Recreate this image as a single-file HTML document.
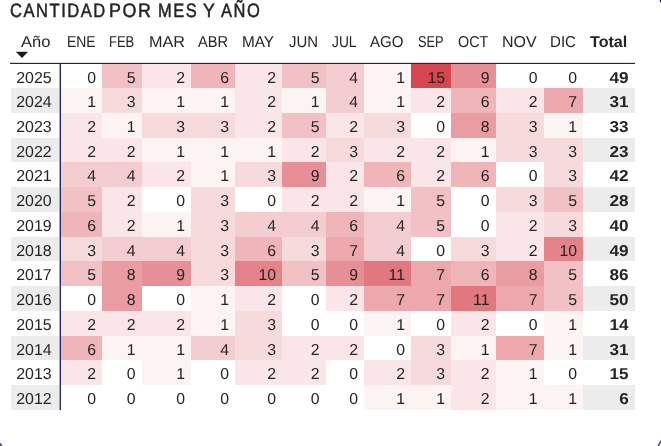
<!DOCTYPE html>
<html><head><meta charset="utf-8"><title>Cantidad por mes y año</title>
<style>
html,body{margin:0;padding:0;background:#fff;}
body{width:661px;height:446px;position:relative;overflow:hidden;text-rendering:geometricPrecision;font-family:"Liberation Sans",sans-serif;color:#252423;}
.a{position:absolute;}
.tt{position:absolute;left:0;top:0;width:400px;height:28px;}
.t{position:absolute;display:block;top:-0.9px;font-size:19.4px;line-height:24px;white-space:nowrap;color:#252423;transform-origin:0 0;-webkit-text-stroke:0.5px #252423;letter-spacing:1.8px;word-spacing:0px;}
.h{position:absolute;top:32px;height:22px;line-height:22px;font-size:15.8px;white-space:nowrap;transform-origin:0 0;}
.c{position:absolute;box-sizing:border-box;text-align:right;font-size:15.8px;white-space:nowrap;}
.y{position:absolute;box-sizing:border-box;text-align:center;font-size:15.8px;white-space:nowrap;}
.b{font-weight:bold;}
.v,.ys,.bs{position:absolute;line-height:18px;height:18px;display:block;}
.v{right:6.0px;}
.ys{left:0;width:100%;text-align:center;transform:scaleX(1.01);transform-origin:50% 50%;margin-left:-1.5px;}
.bs{right:6.0px;transform:scaleX(1.085);transform-origin:100% 50%;}
.g{background:#ececec;}
</style></head><body>
<div class="tt"><span class="t" style="left:10.00px;transform:scaleX(0.8533)">CANTIDAD</span> <span class="t" style="left:109.15px;transform:scaleX(0.9210)">POR</span> <span class="t" style="left:158.00px;transform:scaleX(0.8466)">MES</span> <span class="t" style="left:202.60px;transform:scaleX(0.9160)">Y</span> <span class="t" style="left:220.90px;transform:scaleX(0.8509)">AÑO</span></div>

<div class="h" style="left:20.90px;transform:scaleX(1.0467)">Año</div>
<div class="h" style="left:67.35px;transform:scaleX(0.8800)">ENE</div>
<div class="h" style="left:109.40px;transform:scaleX(0.8193)">FEB</div>
<div class="h" style="left:148.95px;transform:scaleX(1.0278)">MAR</div>
<div class="h" style="left:198.35px;transform:scaleX(0.9244)">ABR</div>
<div class="h" style="left:241.65px;transform:scaleX(0.9700)">MAY</div>
<div class="h" style="left:289.35px;transform:scaleX(0.9445)">JUN</div>
<div class="h" style="left:331.70px;transform:scaleX(0.8728)">JUL</div>
<div class="h" style="left:370.40px;transform:scaleX(0.9515)">AGO</div>
<div class="h" style="left:417.80px;transform:scaleX(0.8062)">SEP</div>
<div class="h" style="left:457.50px;transform:scaleX(0.9065)">OCT</div>
<div class="h" style="left:501.60px;transform:scaleX(1.0118)">NOV</div>
<div class="h" style="left:549.80px;transform:scaleX(0.9545)">DIC</div>
<div class="h b" style="left:590.40px;transform:scaleX(1.0203)">Total</div>
<svg class="a" style="left:16px;top:51px" width="13" height="8" viewBox="0 0 13 8"><path d="M-0.1 0.8 L12.1 0.8 L6 7.0 Z" fill="#1a1a1a"/></svg>
<div class="y" style="left:10.6px;width:49.9px;top:63.50px;height:24.73px;"><span class="ys" style="top:6.50px">2025</span></div>
<div class="c" style="left:60.5px;width:41.5px;top:63.50px;height:24.73px;background:rgb(255,255,255)"><span class="v" style="top:6.50px">0</span></div>
<div class="c" style="left:102.0px;width:39.5px;top:63.50px;height:24.73px;background:rgb(241,193,197)"><span class="v" style="top:6.50px">5</span></div>
<div class="c" style="left:141.5px;width:49.5px;top:63.50px;height:24.73px;background:rgb(250,230,232)"><span class="v" style="top:6.50px">2</span></div>
<div class="c" style="left:191.0px;width:44.0px;top:63.50px;height:24.73px;background:rgb(239,181,185)"><span class="v" style="top:6.50px">6</span></div>
<div class="c" style="left:235.0px;width:47.0px;top:63.50px;height:24.73px;background:rgb(250,230,232)"><span class="v" style="top:6.50px">2</span></div>
<div class="c" style="left:282.0px;width:43.5px;top:63.50px;height:24.73px;background:rgb(241,193,197)"><span class="v" style="top:6.50px">5</span></div>
<div class="c" style="left:325.5px;width:38.5px;top:63.50px;height:24.73px;background:rgb(244,205,208)"><span class="v" style="top:6.50px">4</span></div>
<div class="c" style="left:364.0px;width:47.0px;top:63.50px;height:24.73px;background:rgb(252,243,243)"><span class="v" style="top:6.50px">1</span></div>
<div class="c" style="left:411.0px;width:40.0px;top:63.50px;height:24.73px;background:rgb(214,69,80)"><span class="v" style="top:6.50px">15</span></div>
<div class="c" style="left:451.0px;width:44.5px;top:63.50px;height:24.73px;background:rgb(230,143,150)"><span class="v" style="top:6.50px">9</span></div>
<div class="c" style="left:495.5px;width:48.0px;top:63.50px;height:24.73px;background:rgb(255,255,255)"><span class="v" style="top:6.50px">0</span></div>
<div class="c" style="left:543.5px;width:39.5px;top:63.50px;height:24.73px;background:rgb(255,255,255)"><span class="v" style="top:6.50px">0</span></div>
<div class="c b" style="left:583.0px;width:51.7px;top:63.50px;height:24.73px;"><span class="bs" style="top:6.50px">49</span></div>
<div class="y g" style="left:10.6px;width:49.9px;top:88.23px;height:24.73px;"><span class="ys" style="top:5.77px">2024</span></div>
<div class="c" style="left:60.5px;width:41.5px;top:88.23px;height:24.73px;background:rgb(252,243,243)"><span class="v" style="top:5.77px">1</span></div>
<div class="c" style="left:102.0px;width:39.5px;top:88.23px;height:24.73px;background:rgb(247,218,220)"><span class="v" style="top:5.77px">3</span></div>
<div class="c" style="left:141.5px;width:49.5px;top:88.23px;height:24.73px;background:rgb(252,243,243)"><span class="v" style="top:5.77px">1</span></div>
<div class="c" style="left:191.0px;width:44.0px;top:88.23px;height:24.73px;background:rgb(252,243,243)"><span class="v" style="top:5.77px">1</span></div>
<div class="c" style="left:235.0px;width:47.0px;top:88.23px;height:24.73px;background:rgb(250,230,232)"><span class="v" style="top:5.77px">2</span></div>
<div class="c" style="left:282.0px;width:43.5px;top:88.23px;height:24.73px;background:rgb(252,243,243)"><span class="v" style="top:5.77px">1</span></div>
<div class="c" style="left:325.5px;width:38.5px;top:88.23px;height:24.73px;background:rgb(244,205,208)"><span class="v" style="top:5.77px">4</span></div>
<div class="c" style="left:364.0px;width:47.0px;top:88.23px;height:24.73px;background:rgb(252,243,243)"><span class="v" style="top:5.77px">1</span></div>
<div class="c" style="left:411.0px;width:40.0px;top:88.23px;height:24.73px;background:rgb(250,230,232)"><span class="v" style="top:5.77px">2</span></div>
<div class="c" style="left:451.0px;width:44.5px;top:88.23px;height:24.73px;background:rgb(239,181,185)"><span class="v" style="top:5.77px">6</span></div>
<div class="c" style="left:495.5px;width:48.0px;top:88.23px;height:24.73px;background:rgb(250,230,232)"><span class="v" style="top:5.77px">2</span></div>
<div class="c" style="left:543.5px;width:39.5px;top:88.23px;height:24.73px;background:rgb(236,168,173)"><span class="v" style="top:5.77px">7</span></div>
<div class="c b g" style="left:583.0px;width:51.7px;top:88.23px;height:24.73px;"><span class="bs" style="top:5.77px">31</span></div>
<div class="y" style="left:10.6px;width:49.9px;top:112.96px;height:24.73px;"><span class="ys" style="top:6.04px">2023</span></div>
<div class="c" style="left:60.5px;width:41.5px;top:112.96px;height:24.73px;background:rgb(250,230,232)"><span class="v" style="top:6.04px">2</span></div>
<div class="c" style="left:102.0px;width:39.5px;top:112.96px;height:24.73px;background:rgb(252,243,243)"><span class="v" style="top:6.04px">1</span></div>
<div class="c" style="left:141.5px;width:49.5px;top:112.96px;height:24.73px;background:rgb(247,218,220)"><span class="v" style="top:6.04px">3</span></div>
<div class="c" style="left:191.0px;width:44.0px;top:112.96px;height:24.73px;background:rgb(247,218,220)"><span class="v" style="top:6.04px">3</span></div>
<div class="c" style="left:235.0px;width:47.0px;top:112.96px;height:24.73px;background:rgb(250,230,232)"><span class="v" style="top:6.04px">2</span></div>
<div class="c" style="left:282.0px;width:43.5px;top:112.96px;height:24.73px;background:rgb(241,193,197)"><span class="v" style="top:6.04px">5</span></div>
<div class="c" style="left:325.5px;width:38.5px;top:112.96px;height:24.73px;background:rgb(250,230,232)"><span class="v" style="top:6.04px">2</span></div>
<div class="c" style="left:364.0px;width:47.0px;top:112.96px;height:24.73px;background:rgb(247,218,220)"><span class="v" style="top:6.04px">3</span></div>
<div class="c" style="left:411.0px;width:40.0px;top:112.96px;height:24.73px;background:rgb(255,255,255)"><span class="v" style="top:6.04px">0</span></div>
<div class="c" style="left:451.0px;width:44.5px;top:112.96px;height:24.73px;background:rgb(233,156,162)"><span class="v" style="top:6.04px">8</span></div>
<div class="c" style="left:495.5px;width:48.0px;top:112.96px;height:24.73px;background:rgb(247,218,220)"><span class="v" style="top:6.04px">3</span></div>
<div class="c" style="left:543.5px;width:39.5px;top:112.96px;height:24.73px;background:rgb(252,243,243)"><span class="v" style="top:6.04px">1</span></div>
<div class="c b" style="left:583.0px;width:51.7px;top:112.96px;height:24.73px;"><span class="bs" style="top:6.04px">33</span></div>
<div class="y g" style="left:10.6px;width:49.9px;top:137.69px;height:24.73px;"><span class="ys" style="top:6.31px">2022</span></div>
<div class="c" style="left:60.5px;width:41.5px;top:137.69px;height:24.73px;background:rgb(250,230,232)"><span class="v" style="top:6.31px">2</span></div>
<div class="c" style="left:102.0px;width:39.5px;top:137.69px;height:24.73px;background:rgb(250,230,232)"><span class="v" style="top:6.31px">2</span></div>
<div class="c" style="left:141.5px;width:49.5px;top:137.69px;height:24.73px;background:rgb(252,243,243)"><span class="v" style="top:6.31px">1</span></div>
<div class="c" style="left:191.0px;width:44.0px;top:137.69px;height:24.73px;background:rgb(252,243,243)"><span class="v" style="top:6.31px">1</span></div>
<div class="c" style="left:235.0px;width:47.0px;top:137.69px;height:24.73px;background:rgb(252,243,243)"><span class="v" style="top:6.31px">1</span></div>
<div class="c" style="left:282.0px;width:43.5px;top:137.69px;height:24.73px;background:rgb(250,230,232)"><span class="v" style="top:6.31px">2</span></div>
<div class="c" style="left:325.5px;width:38.5px;top:137.69px;height:24.73px;background:rgb(247,218,220)"><span class="v" style="top:6.31px">3</span></div>
<div class="c" style="left:364.0px;width:47.0px;top:137.69px;height:24.73px;background:rgb(250,230,232)"><span class="v" style="top:6.31px">2</span></div>
<div class="c" style="left:411.0px;width:40.0px;top:137.69px;height:24.73px;background:rgb(250,230,232)"><span class="v" style="top:6.31px">2</span></div>
<div class="c" style="left:451.0px;width:44.5px;top:137.69px;height:24.73px;background:rgb(252,243,243)"><span class="v" style="top:6.31px">1</span></div>
<div class="c" style="left:495.5px;width:48.0px;top:137.69px;height:24.73px;background:rgb(247,218,220)"><span class="v" style="top:6.31px">3</span></div>
<div class="c" style="left:543.5px;width:39.5px;top:137.69px;height:24.73px;background:rgb(247,218,220)"><span class="v" style="top:6.31px">3</span></div>
<div class="c b g" style="left:583.0px;width:51.7px;top:137.69px;height:24.73px;"><span class="bs" style="top:6.31px">23</span></div>
<div class="y" style="left:10.6px;width:49.9px;top:162.41px;height:24.73px;"><span class="ys" style="top:5.59px">2021</span></div>
<div class="c" style="left:60.5px;width:41.5px;top:162.41px;height:24.73px;background:rgb(244,205,208)"><span class="v" style="top:5.59px">4</span></div>
<div class="c" style="left:102.0px;width:39.5px;top:162.41px;height:24.73px;background:rgb(244,205,208)"><span class="v" style="top:5.59px">4</span></div>
<div class="c" style="left:141.5px;width:49.5px;top:162.41px;height:24.73px;background:rgb(250,230,232)"><span class="v" style="top:5.59px">2</span></div>
<div class="c" style="left:191.0px;width:44.0px;top:162.41px;height:24.73px;background:rgb(252,243,243)"><span class="v" style="top:5.59px">1</span></div>
<div class="c" style="left:235.0px;width:47.0px;top:162.41px;height:24.73px;background:rgb(247,218,220)"><span class="v" style="top:5.59px">3</span></div>
<div class="c" style="left:282.0px;width:43.5px;top:162.41px;height:24.73px;background:rgb(230,143,150)"><span class="v" style="top:5.59px">9</span></div>
<div class="c" style="left:325.5px;width:38.5px;top:162.41px;height:24.73px;background:rgb(250,230,232)"><span class="v" style="top:5.59px">2</span></div>
<div class="c" style="left:364.0px;width:47.0px;top:162.41px;height:24.73px;background:rgb(239,181,185)"><span class="v" style="top:5.59px">6</span></div>
<div class="c" style="left:411.0px;width:40.0px;top:162.41px;height:24.73px;background:rgb(250,230,232)"><span class="v" style="top:5.59px">2</span></div>
<div class="c" style="left:451.0px;width:44.5px;top:162.41px;height:24.73px;background:rgb(239,181,185)"><span class="v" style="top:5.59px">6</span></div>
<div class="c" style="left:495.5px;width:48.0px;top:162.41px;height:24.73px;background:rgb(255,255,255)"><span class="v" style="top:5.59px">0</span></div>
<div class="c" style="left:543.5px;width:39.5px;top:162.41px;height:24.73px;background:rgb(247,218,220)"><span class="v" style="top:5.59px">3</span></div>
<div class="c b" style="left:583.0px;width:51.7px;top:162.41px;height:24.73px;"><span class="bs" style="top:5.59px">42</span></div>
<div class="y g" style="left:10.6px;width:49.9px;top:187.14px;height:24.73px;"><span class="ys" style="top:5.86px">2020</span></div>
<div class="c" style="left:60.5px;width:41.5px;top:187.14px;height:24.73px;background:rgb(241,193,197)"><span class="v" style="top:5.86px">5</span></div>
<div class="c" style="left:102.0px;width:39.5px;top:187.14px;height:24.73px;background:rgb(250,230,232)"><span class="v" style="top:5.86px">2</span></div>
<div class="c" style="left:141.5px;width:49.5px;top:187.14px;height:24.73px;background:rgb(255,255,255)"><span class="v" style="top:5.86px">0</span></div>
<div class="c" style="left:191.0px;width:44.0px;top:187.14px;height:24.73px;background:rgb(247,218,220)"><span class="v" style="top:5.86px">3</span></div>
<div class="c" style="left:235.0px;width:47.0px;top:187.14px;height:24.73px;background:rgb(255,255,255)"><span class="v" style="top:5.86px">0</span></div>
<div class="c" style="left:282.0px;width:43.5px;top:187.14px;height:24.73px;background:rgb(250,230,232)"><span class="v" style="top:5.86px">2</span></div>
<div class="c" style="left:325.5px;width:38.5px;top:187.14px;height:24.73px;background:rgb(250,230,232)"><span class="v" style="top:5.86px">2</span></div>
<div class="c" style="left:364.0px;width:47.0px;top:187.14px;height:24.73px;background:rgb(252,243,243)"><span class="v" style="top:5.86px">1</span></div>
<div class="c" style="left:411.0px;width:40.0px;top:187.14px;height:24.73px;background:rgb(241,193,197)"><span class="v" style="top:5.86px">5</span></div>
<div class="c" style="left:451.0px;width:44.5px;top:187.14px;height:24.73px;background:rgb(255,255,255)"><span class="v" style="top:5.86px">0</span></div>
<div class="c" style="left:495.5px;width:48.0px;top:187.14px;height:24.73px;background:rgb(247,218,220)"><span class="v" style="top:5.86px">3</span></div>
<div class="c" style="left:543.5px;width:39.5px;top:187.14px;height:24.73px;background:rgb(241,193,197)"><span class="v" style="top:5.86px">5</span></div>
<div class="c b g" style="left:583.0px;width:51.7px;top:187.14px;height:24.73px;"><span class="bs" style="top:5.86px">28</span></div>
<div class="y" style="left:10.6px;width:49.9px;top:211.87px;height:24.73px;"><span class="ys" style="top:6.13px">2019</span></div>
<div class="c" style="left:60.5px;width:41.5px;top:211.87px;height:24.73px;background:rgb(239,181,185)"><span class="v" style="top:6.13px">6</span></div>
<div class="c" style="left:102.0px;width:39.5px;top:211.87px;height:24.73px;background:rgb(250,230,232)"><span class="v" style="top:6.13px">2</span></div>
<div class="c" style="left:141.5px;width:49.5px;top:211.87px;height:24.73px;background:rgb(252,243,243)"><span class="v" style="top:6.13px">1</span></div>
<div class="c" style="left:191.0px;width:44.0px;top:211.87px;height:24.73px;background:rgb(247,218,220)"><span class="v" style="top:6.13px">3</span></div>
<div class="c" style="left:235.0px;width:47.0px;top:211.87px;height:24.73px;background:rgb(244,205,208)"><span class="v" style="top:6.13px">4</span></div>
<div class="c" style="left:282.0px;width:43.5px;top:211.87px;height:24.73px;background:rgb(244,205,208)"><span class="v" style="top:6.13px">4</span></div>
<div class="c" style="left:325.5px;width:38.5px;top:211.87px;height:24.73px;background:rgb(239,181,185)"><span class="v" style="top:6.13px">6</span></div>
<div class="c" style="left:364.0px;width:47.0px;top:211.87px;height:24.73px;background:rgb(244,205,208)"><span class="v" style="top:6.13px">4</span></div>
<div class="c" style="left:411.0px;width:40.0px;top:211.87px;height:24.73px;background:rgb(241,193,197)"><span class="v" style="top:6.13px">5</span></div>
<div class="c" style="left:451.0px;width:44.5px;top:211.87px;height:24.73px;background:rgb(255,255,255)"><span class="v" style="top:6.13px">0</span></div>
<div class="c" style="left:495.5px;width:48.0px;top:211.87px;height:24.73px;background:rgb(250,230,232)"><span class="v" style="top:6.13px">2</span></div>
<div class="c" style="left:543.5px;width:39.5px;top:211.87px;height:24.73px;background:rgb(247,218,220)"><span class="v" style="top:6.13px">3</span></div>
<div class="c b" style="left:583.0px;width:51.7px;top:211.87px;height:24.73px;"><span class="bs" style="top:6.13px">40</span></div>
<div class="y g" style="left:10.6px;width:49.9px;top:236.60px;height:24.73px;"><span class="ys" style="top:6.40px">2018</span></div>
<div class="c" style="left:60.5px;width:41.5px;top:236.60px;height:24.73px;background:rgb(247,218,220)"><span class="v" style="top:6.40px">3</span></div>
<div class="c" style="left:102.0px;width:39.5px;top:236.60px;height:24.73px;background:rgb(244,205,208)"><span class="v" style="top:6.40px">4</span></div>
<div class="c" style="left:141.5px;width:49.5px;top:236.60px;height:24.73px;background:rgb(244,205,208)"><span class="v" style="top:6.40px">4</span></div>
<div class="c" style="left:191.0px;width:44.0px;top:236.60px;height:24.73px;background:rgb(247,218,220)"><span class="v" style="top:6.40px">3</span></div>
<div class="c" style="left:235.0px;width:47.0px;top:236.60px;height:24.73px;background:rgb(239,181,185)"><span class="v" style="top:6.40px">6</span></div>
<div class="c" style="left:282.0px;width:43.5px;top:236.60px;height:24.73px;background:rgb(247,218,220)"><span class="v" style="top:6.40px">3</span></div>
<div class="c" style="left:325.5px;width:38.5px;top:236.60px;height:24.73px;background:rgb(236,168,173)"><span class="v" style="top:6.40px">7</span></div>
<div class="c" style="left:364.0px;width:47.0px;top:236.60px;height:24.73px;background:rgb(244,205,208)"><span class="v" style="top:6.40px">4</span></div>
<div class="c" style="left:411.0px;width:40.0px;top:236.60px;height:24.73px;background:rgb(255,255,255)"><span class="v" style="top:6.40px">0</span></div>
<div class="c" style="left:451.0px;width:44.5px;top:236.60px;height:24.73px;background:rgb(247,218,220)"><span class="v" style="top:6.40px">3</span></div>
<div class="c" style="left:495.5px;width:48.0px;top:236.60px;height:24.73px;background:rgb(250,230,232)"><span class="v" style="top:6.40px">2</span></div>
<div class="c" style="left:543.5px;width:39.5px;top:236.60px;height:24.73px;background:rgb(228,131,138)"><span class="v" style="top:6.40px">10</span></div>
<div class="c b g" style="left:583.0px;width:51.7px;top:236.60px;height:24.73px;"><span class="bs" style="top:6.40px">49</span></div>
<div class="y" style="left:10.6px;width:49.9px;top:261.33px;height:24.73px;"><span class="ys" style="top:5.67px">2017</span></div>
<div class="c" style="left:60.5px;width:41.5px;top:261.33px;height:24.73px;background:rgb(241,193,197)"><span class="v" style="top:5.67px">5</span></div>
<div class="c" style="left:102.0px;width:39.5px;top:261.33px;height:24.73px;background:rgb(233,156,162)"><span class="v" style="top:5.67px">8</span></div>
<div class="c" style="left:141.5px;width:49.5px;top:261.33px;height:24.73px;background:rgb(230,143,150)"><span class="v" style="top:5.67px">9</span></div>
<div class="c" style="left:191.0px;width:44.0px;top:261.33px;height:24.73px;background:rgb(247,218,220)"><span class="v" style="top:5.67px">3</span></div>
<div class="c" style="left:235.0px;width:47.0px;top:261.33px;height:24.73px;background:rgb(228,131,138)"><span class="v" style="top:5.67px">10</span></div>
<div class="c" style="left:282.0px;width:43.5px;top:261.33px;height:24.73px;background:rgb(241,193,197)"><span class="v" style="top:5.67px">5</span></div>
<div class="c" style="left:325.5px;width:38.5px;top:261.33px;height:24.73px;background:rgb(230,143,150)"><span class="v" style="top:5.67px">9</span></div>
<div class="c" style="left:364.0px;width:47.0px;top:261.33px;height:24.73px;background:rgb(225,119,127)"><span class="v" style="top:5.67px">11</span></div>
<div class="c" style="left:411.0px;width:40.0px;top:261.33px;height:24.73px;background:rgb(236,168,173)"><span class="v" style="top:5.67px">7</span></div>
<div class="c" style="left:451.0px;width:44.5px;top:261.33px;height:24.73px;background:rgb(239,181,185)"><span class="v" style="top:5.67px">6</span></div>
<div class="c" style="left:495.5px;width:48.0px;top:261.33px;height:24.73px;background:rgb(233,156,162)"><span class="v" style="top:5.67px">8</span></div>
<div class="c" style="left:543.5px;width:39.5px;top:261.33px;height:24.73px;background:rgb(241,193,197)"><span class="v" style="top:5.67px">5</span></div>
<div class="c b" style="left:583.0px;width:51.7px;top:261.33px;height:24.73px;"><span class="bs" style="top:5.67px">86</span></div>
<div class="y g" style="left:10.6px;width:49.9px;top:286.06px;height:24.73px;"><span class="ys" style="top:5.94px">2016</span></div>
<div class="c" style="left:60.5px;width:41.5px;top:286.06px;height:24.73px;background:rgb(255,255,255)"><span class="v" style="top:5.94px">0</span></div>
<div class="c" style="left:102.0px;width:39.5px;top:286.06px;height:24.73px;background:rgb(233,156,162)"><span class="v" style="top:5.94px">8</span></div>
<div class="c" style="left:141.5px;width:49.5px;top:286.06px;height:24.73px;background:rgb(255,255,255)"><span class="v" style="top:5.94px">0</span></div>
<div class="c" style="left:191.0px;width:44.0px;top:286.06px;height:24.73px;background:rgb(252,243,243)"><span class="v" style="top:5.94px">1</span></div>
<div class="c" style="left:235.0px;width:47.0px;top:286.06px;height:24.73px;background:rgb(250,230,232)"><span class="v" style="top:5.94px">2</span></div>
<div class="c" style="left:282.0px;width:43.5px;top:286.06px;height:24.73px;background:rgb(255,255,255)"><span class="v" style="top:5.94px">0</span></div>
<div class="c" style="left:325.5px;width:38.5px;top:286.06px;height:24.73px;background:rgb(250,230,232)"><span class="v" style="top:5.94px">2</span></div>
<div class="c" style="left:364.0px;width:47.0px;top:286.06px;height:24.73px;background:rgb(236,168,173)"><span class="v" style="top:5.94px">7</span></div>
<div class="c" style="left:411.0px;width:40.0px;top:286.06px;height:24.73px;background:rgb(236,168,173)"><span class="v" style="top:5.94px">7</span></div>
<div class="c" style="left:451.0px;width:44.5px;top:286.06px;height:24.73px;background:rgb(225,119,127)"><span class="v" style="top:5.94px">11</span></div>
<div class="c" style="left:495.5px;width:48.0px;top:286.06px;height:24.73px;background:rgb(236,168,173)"><span class="v" style="top:5.94px">7</span></div>
<div class="c" style="left:543.5px;width:39.5px;top:286.06px;height:24.73px;background:rgb(241,193,197)"><span class="v" style="top:5.94px">5</span></div>
<div class="c b g" style="left:583.0px;width:51.7px;top:286.06px;height:24.73px;"><span class="bs" style="top:5.94px">50</span></div>
<div class="y" style="left:10.6px;width:49.9px;top:310.79px;height:24.73px;"><span class="ys" style="top:6.21px">2015</span></div>
<div class="c" style="left:60.5px;width:41.5px;top:310.79px;height:24.73px;background:rgb(250,230,232)"><span class="v" style="top:6.21px">2</span></div>
<div class="c" style="left:102.0px;width:39.5px;top:310.79px;height:24.73px;background:rgb(250,230,232)"><span class="v" style="top:6.21px">2</span></div>
<div class="c" style="left:141.5px;width:49.5px;top:310.79px;height:24.73px;background:rgb(250,230,232)"><span class="v" style="top:6.21px">2</span></div>
<div class="c" style="left:191.0px;width:44.0px;top:310.79px;height:24.73px;background:rgb(252,243,243)"><span class="v" style="top:6.21px">1</span></div>
<div class="c" style="left:235.0px;width:47.0px;top:310.79px;height:24.73px;background:rgb(247,218,220)"><span class="v" style="top:6.21px">3</span></div>
<div class="c" style="left:282.0px;width:43.5px;top:310.79px;height:24.73px;background:rgb(255,255,255)"><span class="v" style="top:6.21px">0</span></div>
<div class="c" style="left:325.5px;width:38.5px;top:310.79px;height:24.73px;background:rgb(255,255,255)"><span class="v" style="top:6.21px">0</span></div>
<div class="c" style="left:364.0px;width:47.0px;top:310.79px;height:24.73px;background:rgb(252,243,243)"><span class="v" style="top:6.21px">1</span></div>
<div class="c" style="left:411.0px;width:40.0px;top:310.79px;height:24.73px;background:rgb(255,255,255)"><span class="v" style="top:6.21px">0</span></div>
<div class="c" style="left:451.0px;width:44.5px;top:310.79px;height:24.73px;background:rgb(250,230,232)"><span class="v" style="top:6.21px">2</span></div>
<div class="c" style="left:495.5px;width:48.0px;top:310.79px;height:24.73px;background:rgb(255,255,255)"><span class="v" style="top:6.21px">0</span></div>
<div class="c" style="left:543.5px;width:39.5px;top:310.79px;height:24.73px;background:rgb(252,243,243)"><span class="v" style="top:6.21px">1</span></div>
<div class="c b" style="left:583.0px;width:51.7px;top:310.79px;height:24.73px;"><span class="bs" style="top:6.21px">14</span></div>
<div class="y g" style="left:10.6px;width:49.9px;top:335.51px;height:24.73px;"><span class="ys" style="top:6.49px">2014</span></div>
<div class="c" style="left:60.5px;width:41.5px;top:335.51px;height:24.73px;background:rgb(239,181,185)"><span class="v" style="top:6.49px">6</span></div>
<div class="c" style="left:102.0px;width:39.5px;top:335.51px;height:24.73px;background:rgb(252,243,243)"><span class="v" style="top:6.49px">1</span></div>
<div class="c" style="left:141.5px;width:49.5px;top:335.51px;height:24.73px;background:rgb(252,243,243)"><span class="v" style="top:6.49px">1</span></div>
<div class="c" style="left:191.0px;width:44.0px;top:335.51px;height:24.73px;background:rgb(244,205,208)"><span class="v" style="top:6.49px">4</span></div>
<div class="c" style="left:235.0px;width:47.0px;top:335.51px;height:24.73px;background:rgb(247,218,220)"><span class="v" style="top:6.49px">3</span></div>
<div class="c" style="left:282.0px;width:43.5px;top:335.51px;height:24.73px;background:rgb(250,230,232)"><span class="v" style="top:6.49px">2</span></div>
<div class="c" style="left:325.5px;width:38.5px;top:335.51px;height:24.73px;background:rgb(250,230,232)"><span class="v" style="top:6.49px">2</span></div>
<div class="c" style="left:364.0px;width:47.0px;top:335.51px;height:24.73px;background:rgb(255,255,255)"><span class="v" style="top:6.49px">0</span></div>
<div class="c" style="left:411.0px;width:40.0px;top:335.51px;height:24.73px;background:rgb(247,218,220)"><span class="v" style="top:6.49px">3</span></div>
<div class="c" style="left:451.0px;width:44.5px;top:335.51px;height:24.73px;background:rgb(252,243,243)"><span class="v" style="top:6.49px">1</span></div>
<div class="c" style="left:495.5px;width:48.0px;top:335.51px;height:24.73px;background:rgb(236,168,173)"><span class="v" style="top:6.49px">7</span></div>
<div class="c" style="left:543.5px;width:39.5px;top:335.51px;height:24.73px;background:rgb(252,243,243)"><span class="v" style="top:6.49px">1</span></div>
<div class="c b g" style="left:583.0px;width:51.7px;top:335.51px;height:24.73px;"><span class="bs" style="top:6.49px">31</span></div>
<div class="y" style="left:10.6px;width:49.9px;top:360.24px;height:24.73px;"><span class="ys" style="top:5.76px">2013</span></div>
<div class="c" style="left:60.5px;width:41.5px;top:360.24px;height:24.73px;background:rgb(250,230,232)"><span class="v" style="top:5.76px">2</span></div>
<div class="c" style="left:102.0px;width:39.5px;top:360.24px;height:24.73px;background:rgb(255,255,255)"><span class="v" style="top:5.76px">0</span></div>
<div class="c" style="left:141.5px;width:49.5px;top:360.24px;height:24.73px;background:rgb(252,243,243)"><span class="v" style="top:5.76px">1</span></div>
<div class="c" style="left:191.0px;width:44.0px;top:360.24px;height:24.73px;background:rgb(255,255,255)"><span class="v" style="top:5.76px">0</span></div>
<div class="c" style="left:235.0px;width:47.0px;top:360.24px;height:24.73px;background:rgb(250,230,232)"><span class="v" style="top:5.76px">2</span></div>
<div class="c" style="left:282.0px;width:43.5px;top:360.24px;height:24.73px;background:rgb(250,230,232)"><span class="v" style="top:5.76px">2</span></div>
<div class="c" style="left:325.5px;width:38.5px;top:360.24px;height:24.73px;background:rgb(255,255,255)"><span class="v" style="top:5.76px">0</span></div>
<div class="c" style="left:364.0px;width:47.0px;top:360.24px;height:24.73px;background:rgb(250,230,232)"><span class="v" style="top:5.76px">2</span></div>
<div class="c" style="left:411.0px;width:40.0px;top:360.24px;height:24.73px;background:rgb(247,218,220)"><span class="v" style="top:5.76px">3</span></div>
<div class="c" style="left:451.0px;width:44.5px;top:360.24px;height:24.73px;background:rgb(250,230,232)"><span class="v" style="top:5.76px">2</span></div>
<div class="c" style="left:495.5px;width:48.0px;top:360.24px;height:24.73px;background:rgb(252,243,243)"><span class="v" style="top:5.76px">1</span></div>
<div class="c" style="left:543.5px;width:39.5px;top:360.24px;height:24.73px;background:rgb(255,255,255)"><span class="v" style="top:5.76px">0</span></div>
<div class="c b" style="left:583.0px;width:51.7px;top:360.24px;height:24.73px;"><span class="bs" style="top:5.76px">15</span></div>
<div class="y g" style="left:10.6px;width:49.9px;top:384.97px;height:24.73px;"><span class="ys" style="top:6.03px">2012</span></div>
<div class="c" style="left:60.5px;width:41.5px;top:384.97px;height:24.73px;background:rgb(255,255,255)"><span class="v" style="top:6.03px">0</span></div>
<div class="c" style="left:102.0px;width:39.5px;top:384.97px;height:24.73px;background:rgb(255,255,255)"><span class="v" style="top:6.03px">0</span></div>
<div class="c" style="left:141.5px;width:49.5px;top:384.97px;height:24.73px;background:rgb(255,255,255)"><span class="v" style="top:6.03px">0</span></div>
<div class="c" style="left:191.0px;width:44.0px;top:384.97px;height:24.73px;background:rgb(255,255,255)"><span class="v" style="top:6.03px">0</span></div>
<div class="c" style="left:235.0px;width:47.0px;top:384.97px;height:24.73px;background:rgb(255,255,255)"><span class="v" style="top:6.03px">0</span></div>
<div class="c" style="left:282.0px;width:43.5px;top:384.97px;height:24.73px;background:rgb(255,255,255)"><span class="v" style="top:6.03px">0</span></div>
<div class="c" style="left:325.5px;width:38.5px;top:384.97px;height:24.73px;background:rgb(255,255,255)"><span class="v" style="top:6.03px">0</span></div>
<div class="c" style="left:364.0px;width:47.0px;top:384.97px;height:24.73px;background:rgb(252,243,243)"><span class="v" style="top:6.03px">1</span></div>
<div class="c" style="left:411.0px;width:40.0px;top:384.97px;height:24.73px;background:rgb(252,243,243)"><span class="v" style="top:6.03px">1</span></div>
<div class="c" style="left:451.0px;width:44.5px;top:384.97px;height:24.73px;background:rgb(250,230,232)"><span class="v" style="top:6.03px">2</span></div>
<div class="c" style="left:495.5px;width:48.0px;top:384.97px;height:24.73px;background:rgb(252,243,243)"><span class="v" style="top:6.03px">1</span></div>
<div class="c" style="left:543.5px;width:39.5px;top:384.97px;height:24.73px;background:rgb(252,243,243)"><span class="v" style="top:6.03px">1</span></div>
<div class="c b g" style="left:583.0px;width:51.7px;top:384.97px;height:24.73px;"><span class="bs" style="top:6.03px">6</span></div>
<div class="a" style="left:10px;top:62px;width:625px;height:1px;background:#d9dae6"></div>
<div class="a" style="left:10px;top:63px;width:625px;height:1px;background:#1e2259"></div>
<div class="a" style="left:59px;top:64px;width:1px;height:346px;background:#a5a7c6"></div>
<div class="a" style="left:60px;top:63px;width:1px;height:347px;background:#23286a"></div>
<svg class="a" style="left:0;top:0" width="661" height="446" viewBox="0 0 661 446"><path d="M660.5 -1 L660.5 2.2" stroke="#1b1f5c" stroke-width="1.3" fill="none"/><path d="M-0.5 443.2 L2.2 446.5" stroke="#33365f" stroke-width="1.5" fill="none"/><path d="M657.8 446.5 L661.3 440.6" stroke="#3a3f78" stroke-width="1.4" fill="none"/></svg>
</body></html>
